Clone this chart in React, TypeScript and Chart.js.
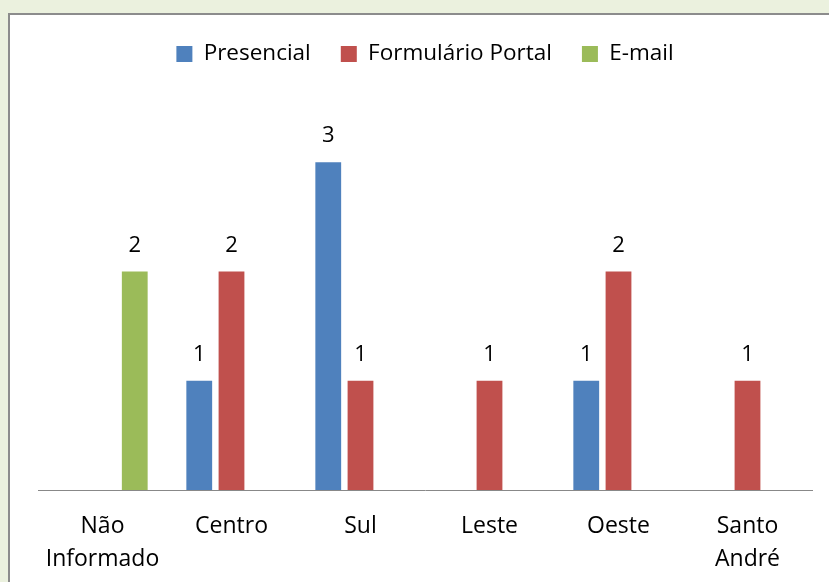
import React, { useEffect, useRef } from "react";
import { Chart, registerables } from "chart.js";

Chart.register(...registerables);

const categories: (string | string[])[] = [
  ["Não", "Informado"],
  "Centro",
  "Sul",
  "Leste",
  "Oeste",
  ["Santo", "André"],
];
const presencial: (number | null)[] = [null, 1, 3, null, 1, null];
const formularioPortal: (number | null)[] = [null, 2, 1, 1, 2, 1];
const email: (number | null)[] = [2, null, null, null, null, null];

const seriesNames = ["Presencial", "Formulário Portal", "E-mail"];
const seriesColors = ["#4F81BD", "#C0504D", "#9BBB59"];

const FONT = '"Open Sans", "Noto Sans", sans-serif';

export default function App() {
  const canvasRef = useRef<HTMLCanvasElement | null>(null);

  useEffect(() => {
    if (!canvasRef.current) return;

    const legendHeightPlugin = {
      id: "legendHeight",
      beforeInit(chart: any) {
        const legend = chart.legend;
        if (!legend) return;
        const origFit = legend.fit;
        legend.fit = function () {
          origFit.call(this);
          this.height = 94.75;
        };
      },
    };

    const dataLabelPlugin = {
      id: "dataLabels",
      afterDatasetsDraw(chart: any) {
        const ctx = chart.ctx;
        ctx.save();
        ctx.font = `22px ${FONT}`;
        ctx.fillStyle = "#000000";
        ctx.textAlign = "center";
        ctx.textBaseline = "middle";
        chart.data.datasets.forEach((ds: any, i: number) => {
          const meta = chart.getDatasetMeta(i);
          meta.data.forEach((bar: any, j: number) => {
            const v = ds.data[j];
            if (v === null || v === undefined) return;
            ctx.fillText(String(v), bar.x, bar.y - 26);
          });
        });
        ctx.restore();
      },
    };

    const chart = new Chart(canvasRef.current, {
      type: "bar",
      data: {
        labels: categories,
        datasets: [presencial, formularioPortal, email].map((d, i) => ({
          label: seriesNames[i],
          data: d,
          backgroundColor: seriesColors[i],
          borderWidth: 0,
          categoryPercentage: 0.75,
          barPercentage: 0.8,
        })),
      },
      options: {
        animation: false,
        responsive: false,
        maintainAspectRatio: false,
        layout: { padding: { left: 38, right: 17, top: 12.75, bottom: 0 } },
        plugins: {
          tooltip: { enabled: false },
          legend: {
            display: true,
            position: "top",
            labels: {
              boxWidth: 16,
              boxHeight: 16,
              padding: 30,
              color: "#000000",
              font: { family: FONT, size: 22.5 },
            },
          },
        },
        scales: {
          x: {
            grid: { display: false, drawTicks: false },
            border: { display: true, color: "#888888", width: 1 },
            afterFit(scale: any) {
              scale.height = 92;
            },
            ticks: {
              color: "#000000",
              padding: 20,
              font: { family: FONT, size: 23, lineHeight: 33 / 23 },
              maxRotation: 0,
              autoSkip: false,
            },
          },
          y: {
            display: false,
            min: 0,
            max: 3.5,
          },
        },
      },
      plugins: [legendHeightPlugin, dataLabelPlugin],
    });

    return () => chart.destroy();
  }, []);

  return (
    <div
      style={{
        position: "fixed",
        left: 0,
        top: 0,
        width: 829,
        height: 582,
        background: "#EBF1DE",
        overflow: "hidden",
      }}
    >
      <div
        style={{
          position: "absolute",
          left: 8,
          top: 13,
          width: 900,
          height: 700,
          background: "#FFFFFF",
          borderTop: "2px solid #8C8C8C",
          borderLeft: "2px solid #8C8C8C",
          boxSizing: "border-box",
        }}
      />
      <canvas
        ref={canvasRef}
        width={829}
        height={582}
        style={{ position: "absolute", left: 0, top: 0, width: 829, height: 582 }}
      />
    </div>
  );
}
